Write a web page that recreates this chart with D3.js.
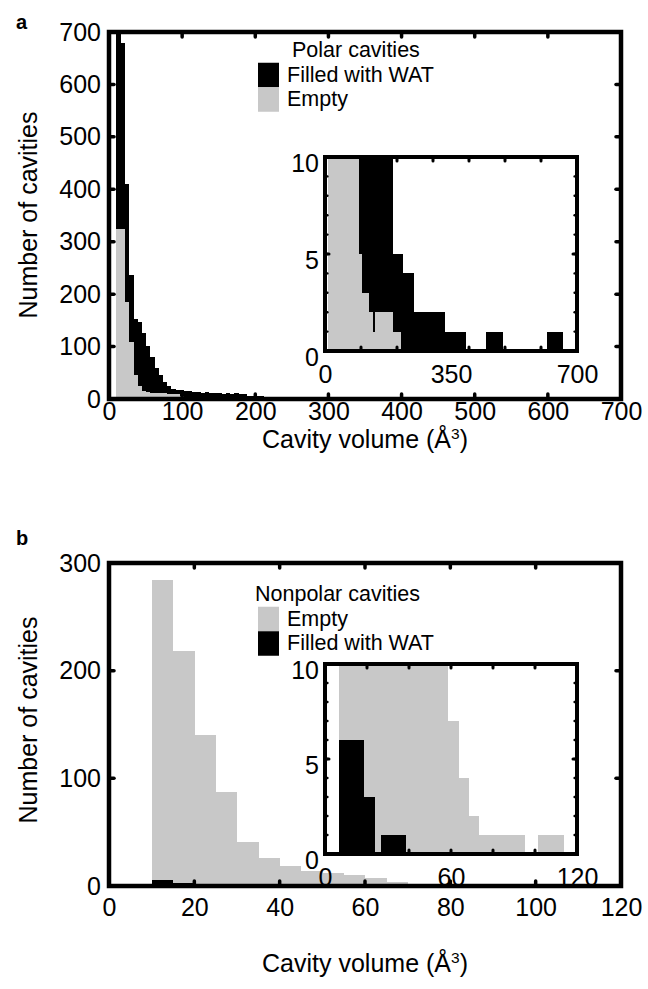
<!DOCTYPE html>
<html><head><meta charset="utf-8">
<script src="https://cdn.jsdelivr.net/npm/d3@7"></script>
<style>
body{margin:0;background:#fff}
svg text{font-family:"Liberation Sans",Arial,Helvetica,sans-serif;fill:#000}
</style></head><body>
<svg id="c" width="648" height="989"></svg>
<script>
// ================= DATA =================
// Panel a: polar cavities (main histogram, bins of 5.75 Å from 10 Å)
const polarBinStart = 10;
const polarBinWidth = 5.75;
const polarFilled = [760, 679, 410, 236, 152, 146, 126, 102, 80, 60, 45, 32, 24, 20, 18, 17, 15, 16, 14, 13, 12, 14, 11, 12, 11, 10, 12, 10, 11, 10, 10, 5, 5, 5, 5, 4, 4, 4, 4, 4];
const polarEmpty  = [325, 325, 185, 108, 45, 25, 16, 13, 12, 12, 11, 11, 10, 10, 10, 5, 3, 3, 3, 2, 2, 1, 2, 2, 2, 2, 2, 2, 2, 2, 2, 1, 1, 1, 1];
const polarXTicks = [0, 100, 200, 300, 400, 500, 600, 700];
const polarYTicks = [0, 100, 200, 300, 400, 500, 600, 700];
// Panel a inset: [from Å, to Å, count]
const polarInsetFilled = [[8.4, 94, 12], [94, 187, 12], [187, 215, 5], [215, 245, 4], [245, 331, 2], [331, 391, 1], [447, 494, 1], [616, 661, 1]];
const polarInsetEmpty  = [[8.4, 94, 12], [94, 101, 5], [101, 122, 3], [122, 131, 2], [131, 140, 1], [140, 187, 2], [187, 210, 1]];
const polarInsetXLabels = [0, 350, 700];
const polarInsetXTicks = [100, 200, 300, 400, 500, 600];
const insetYLabels = [0, 5, 10];
const insetYMinor = [1, 2, 3, 4, 5, 6, 7, 8, 9];

// Panel b: nonpolar cavities (main histogram, bins of 5 Å from 10 Å)
const nonpolarBinStart = 10;
const nonpolarBinWidth = 5;
const nonpolarEmpty  = [284, 218, 140, 87, 41, 26, 19, 14, 12, 10, 7, 4, 2, 1, 1, 1, 1, 1, 0, 1, 1];
const nonpolarFilled = [6, 3, 0, 1, 1];
const nonpolarXTicks = [0, 20, 40, 60, 80, 100, 120];
const nonpolarYTicks = [0, 100, 200, 300];
// Panel b inset: [from Å, to Å, count]
const nonpolarInsetEmpty  = [[6.7, 58.6, 12], [58.6, 63.4, 7], [63.4, 68.5, 4], [68.5, 73.3, 2], [73.3, 95.2, 1], [101.6, 113.4, 1]];
const nonpolarInsetFilled = [[6.7, 18.4, 6], [18.4, 23.4, 3], [26.8, 38.2, 1]];
const nonpolarInsetXLabels = [0, 60, 120];
const nonpolarInsetXTicks = [20, 40, 60, 80, 100];

const GRAY = "#c8c8c8", BLACK = "#000";

// ================= DRAW =================
const svg = d3.select("#c");
const FS = 25;
let clipId = 0;

function toBins(start, width, vals) {
  return vals.map((v, i) => [start + i * width, start + (i + 1) * width, v]);
}

function drawBars(g, x, y, segs, color) {
  g.selectAll(null).data(segs).join("rect")
    .attr("x", d => x(d[0]))
    .attr("width", d => Math.max(0, x(d[1]) - x(d[0]) + 0.4))
    .attr("y", d => y(d[2]))
    .attr("height", d => Math.max(0, y(0) - y(d[2])))
    .attr("fill", color)
    .attr("shape-rendering", "crispEdges");
}

function panel(opt) {
  const x = d3.scaleLinear().domain(opt.xDomain).range(opt.xRange);
  const y = d3.scaleLinear().domain(opt.yDomain).range(opt.yRange);
  const id = "clip" + (clipId++);
  svg.append("clipPath").attr("id", id).append("rect")
    .attr("x", x.range()[0]).attr("y", y.range()[1])
    .attr("width", x.range()[1] - x.range()[0]).attr("height", y.range()[0] - y.range()[1]);
  if (opt.bg) {
    svg.append("rect")
      .attr("x", x.range()[0]).attr("y", y.range()[1])
      .attr("width", x.range()[1] - x.range()[0]).attr("height", y.range()[0] - y.range()[1])
      .attr("fill", "#fff");
  }
  const g = svg.append("g").attr("clip-path", `url(#${id})`);
  opt.layers.forEach(l => drawBars(g, x, y, l.segs, l.color));

  const tl = opt.tickLen, tw = opt.tickWidth;
  const bottom = svg.append("g").attr("transform", `translate(0,${y.range()[0]})`)
    .call(d3.axisBottom(x).tickValues(opt.xLabels).tickSizeInner(0).tickSizeOuter(0).tickPadding(opt.xPad).tickFormat(d3.format("d")));
  bottom.select(".domain").remove();
  bottom.selectAll("text").attr("font-size", FS).attr("font-family", "Liberation Sans, Arial, sans-serif");
  const left = svg.append("g").attr("transform", `translate(${x.range()[0]},${opt.yLabelShift || 0})`)
    .call(d3.axisLeft(y).tickValues(opt.yLabels).tickSizeInner(0).tickSizeOuter(0).tickPadding(opt.yPad).tickFormat(d3.format("d")));
  left.select(".domain").remove();
  left.selectAll("text").attr("font-size", FS).attr("font-family", "Liberation Sans, Arial, sans-serif");
  const tg = svg.append("g").attr("stroke", "#000").attr("stroke-width", tw).attr("stroke-linecap", "round");
  const [x0, x1] = x.range(), [yb, yt] = y.range();
  opt.xTicks.forEach(v => {
    tg.append("line").attr("x1", x(v)).attr("x2", x(v)).attr("y1", yb).attr("y2", yb - tl);
    tg.append("line").attr("x1", x(v)).attr("x2", x(v)).attr("y1", yt).attr("y2", yt + tl);
  });
  opt.yTicks.forEach(v => {
    tg.append("line").attr("y1", y(v)).attr("y2", y(v)).attr("x1", x0).attr("x2", x0 + tl);
    tg.append("line").attr("y1", y(v)).attr("y2", y(v)).attr("x1", x1).attr("x2", x1 - tl);
  });
  (opt.yMinor || []).forEach(v => {
    tg.append("line").attr("y1", y(v)).attr("y2", y(v)).attr("x1", x0).attr("x2", x0 + tl * 0.6).attr("stroke-width", tw * 0.8);
    tg.append("line").attr("y1", y(v)).attr("y2", y(v)).attr("x1", x1).attr("x2", x1 - tl * 0.6).attr("stroke-width", tw * 0.8);
  });
  svg.append("rect").attr("x", x0).attr("y", yt).attr("width", x1 - x0).attr("height", yb - yt)
    .attr("fill", "none").attr("stroke", "#000").attr("stroke-width", opt.frameWidth);
  return {x, y};
}

function xTitle(cx, cy) {
  const t = svg.append("text").attr("x", cx).attr("y", cy).attr("text-anchor", "middle")
    .attr("font-size", FS).attr("dominant-baseline", "middle");
  t.append("tspan").text("Cavity volume (Å");
  t.append("tspan").attr("font-size", FS * 0.62).attr("dy", -6).text("3");
  t.append("tspan").attr("dy", 6).text(")");
}
function yTitle(cx, cy) {
  svg.append("text").attr("transform", `translate(${cx},${cy}) rotate(-90)`)
    .attr("text-anchor", "middle").attr("dominant-baseline", "middle")
    .attr("font-size", FS).text("Number of cavities");
}
const LFS = 21.5;
function legend(x, y, titleX, title, items) {
  svg.append("text").attr("x", titleX).attr("y", y).attr("font-size", LFS).attr("dominant-baseline", "middle").text(title);
  items.forEach((it, i) => {
    const cy = y + 24 + i * 24.5;
    svg.append("rect").attr("x", x).attr("y", cy - 12.25).attr("width", 21).attr("height", 24.5).attr("fill", it.color);
    svg.append("text").attr("x", x + 29).attr("y", cy + 1).attr("font-size", LFS).attr("dominant-baseline", "middle").text(it.label);
  });
}

// ---------- Panel a ----------
svg.append("text").attr("x", 16).attr("y", 29).attr("font-size", 20).attr("font-weight", "bold").text("a");
panel({
  xDomain: [0, 700], xRange: [109, 621], yDomain: [0, 700], yRange: [399, 32],
  layers: [
    {segs: toBins(polarBinStart, polarBinWidth, polarFilled), color: BLACK},
    {segs: toBins(polarBinStart, polarBinWidth, polarEmpty), color: GRAY}
  ],
  xLabels: polarXTicks, yLabels: polarYTicks,
  xTicks: polarXTicks.slice(1, -1), yTicks: polarYTicks.slice(1, -1),
  tickLen: 5, tickWidth: 3.5, frameWidth: 4.5, xPad: 3, yPad: 8
});
yTitle(30, 215);
xTitle(365, 441);
legend(258, 51, 292, "Polar cavities", [{color: BLACK, label: "Filled with WAT"}, {color: GRAY, label: "Empty"}]);
panel({
  xDomain: [0, 700], xRange: [325, 577], yDomain: [0, 10], yRange: [351, 157], bg: true,
  layers: [
    {segs: polarInsetFilled, color: BLACK},
    {segs: polarInsetEmpty, color: GRAY}
  ],
  xLabels: polarInsetXLabels, yLabels: insetYLabels,
  xTicks: polarInsetXTicks, yTicks: [5], yMinor: insetYMinor,
  tickLen: 4, tickWidth: 3, frameWidth: 4, xPad: 14, yPad: 6, yLabelShift: 6
});

// ---------- Panel b ----------
svg.append("text").attr("x", 16).attr("y", 545).attr("font-size", 20).attr("font-weight", "bold").text("b");
panel({
  xDomain: [0, 120], xRange: [109, 621], yDomain: [0, 300], yRange: [886, 563],
  layers: [
    {segs: toBins(nonpolarBinStart, nonpolarBinWidth, nonpolarEmpty), color: GRAY},
    {segs: toBins(nonpolarBinStart, nonpolarBinWidth, nonpolarFilled), color: BLACK}
  ],
  xLabels: nonpolarXTicks, yLabels: nonpolarYTicks,
  xTicks: nonpolarXTicks.slice(1, -1), yTicks: nonpolarYTicks.slice(1, -1),
  tickLen: 5, tickWidth: 3.5, frameWidth: 4.5, xPad: 12, yPad: 8
});
yTitle(30, 720);
xTitle(365, 965);
legend(258, 595, 255, "Nonpolar cavities", [{color: GRAY, label: "Empty"}, {color: BLACK, label: "Filled with WAT"}]);
panel({
  xDomain: [0, 120], xRange: [325, 577], yDomain: [0, 10], yRange: [854, 664], bg: true,
  layers: [
    {segs: nonpolarInsetEmpty, color: GRAY},
    {segs: nonpolarInsetFilled, color: BLACK}
  ],
  xLabels: nonpolarInsetXLabels, yLabels: insetYLabels,
  xTicks: nonpolarInsetXTicks, yTicks: [5], yMinor: insetYMinor,
  tickLen: 4, tickWidth: 3, frameWidth: 4, xPad: 14, yPad: 6, yLabelShift: 6
});
</script>
</body></html>
